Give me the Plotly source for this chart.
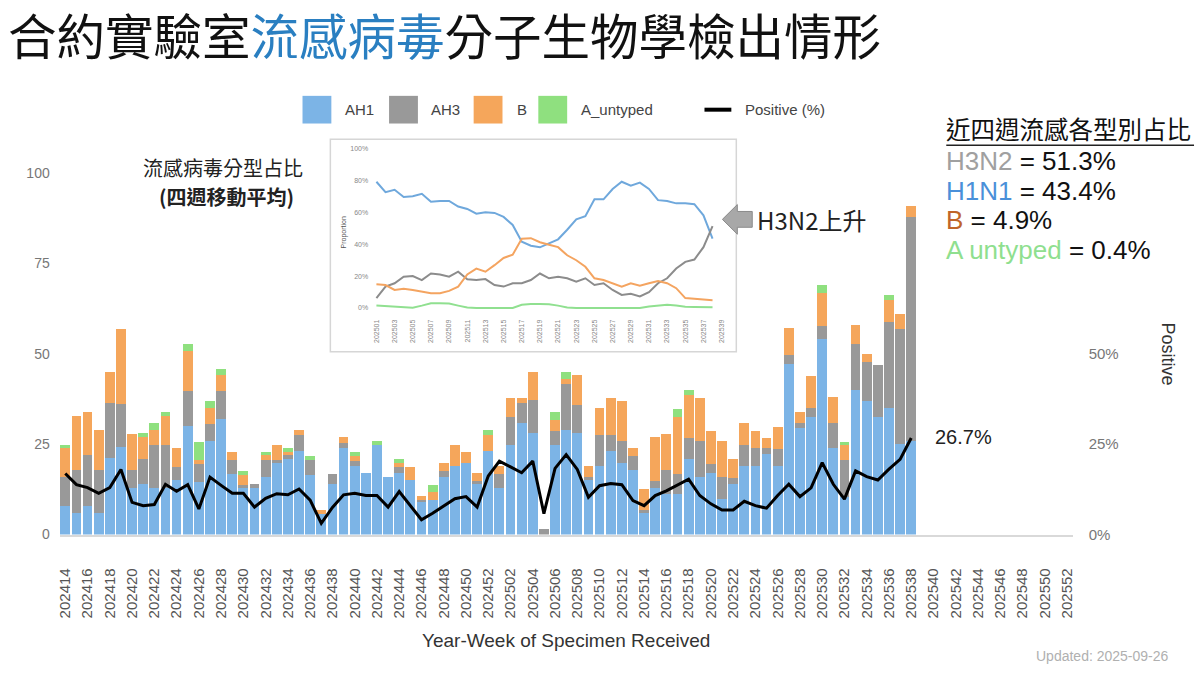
import plotly.graph_objects as go

# ---------------- data ----------------
weeks = [f"2024{w:02d}" for w in range(14, 53)] + [f"2025{w:02d}" for w in range(1, 53)]
data_weeks = weeks[:77]  # 202414 .. 202538

ah1 = [8.0, 5.9, 8.0, 5.9, 21.1, 24.2, 13.0, 13.9, 13.0, 13.0,
       15.0, 29.9, 14.6, 25.9, 32.0, 16.8, 13.0, 12.8, 15.9, 19.8,
       21.0, 23.0, 16.6, 5.7, 13.9, 24.0, 19.0, 16.9, 24.9, 15.8,
       16.9, 15.0, 8.9, 9.6, 15.8, 19.0, 19.9, 13.9, 23.0, 13.0,
       24.9, 30.8, 28.1, 0.0, 24.9, 29.0, 28.1, 15.0, 19.0, 23.0,
       19.9, 17.8, 5.9, 13.0, 11.2, 11.2, 20.8, 15.8, 16.9, 9.9,
       13.9, 19.0, 19.0, 22.2, 19.0, 47.2, 29.4, 32.4, 54.0, 24.0,
       10.5, 39.9, 36.9, 32.4, 34.9, 25.1, 25.8]
ah3 = [7.8, 11.9, 13.9, 11.9, 15.4, 11.8, 4.8, 6.9, 11.7, 11.7,
       3.8, 9.7, 4.8, 4.6, 7.6, 3.9, 0.7, 1.1, 4.8, 0.9,
       1.1, 4.6, 4.1, 0.0, 2.9, 1.3, 1.3, 0.0, 0.0, 0.0,
       1.8, 0.0, 0.7, 0.0, 1.8, 0.0, 0.0, 1.0, 0.0, 3.7,
       7.7, 5.7, 9.1, 1.5, 3.8, 12.7, 7.7, 1.0, 8.6, 4.6,
       5.9, 3.9, 0.8, 1.9, 6.6, 5.5, 5.9, 10.0, 2.7, 5.9,
       1.7, 5.7, 4.8, 1.8, 4.7, 2.5, 1.4, 2.5, 3.7, 6.8,
       10.2, 12.8, 10.8, 14.4, 23.9, 31.7, 61.9]
b = [8.2, 15.1, 11.9, 11.0, 8.4, 20.9, 10.0, 6.1, 4.3, 8.2,
     5.1, 11.2, 1.3, 4.4, 4.4, 2.1, 2.9, 0.0, 1.2, 4.1,
     0.8, 1.3, 0.0, 1.1, 0.0, 1.6, 1.4, 0.0, 0.0, 0.0,
     1.2, 3.7, 1.2, 2.3, 2.3, 5.9, 3.0, 2.0, 4.6, 2.3,
     5.2, 1.3, 7.7, 0.0, 3.0, 1.2, 8.2, 3.0, 7.3, 10.2,
     11.1, 2.1, 5.9, 12.0, 10.0, 15.9, 12.0, 12.0, 9.1, 10.0,
     5.2, 6.1, 4.9, 2.8, 6.0, 7.3, 3.0, 8.9, 9.1, 7.1,
     4.0, 5.2, 2.1, 0.0, 6.0, 4.3, 3.2]
a_untyped = [0.9, 0.0, 0.0, 0.0, 0.0, 0.0, 0.0, 1.1, 1.8, 0.9,
             0.0, 2.0, 5.0, 2.0, 1.8, 0.0, 1.1, 0.0, 0.9, 0.0,
             1.1, 0.0, 0.9, 0.0, 0.0, 0.0, 1.2, 0.0, 0.9, 0.0,
             0.9, 0.0, 0.0, 1.9, 0.0, 0.0, 0.0, 0.0, 1.4, 0.0,
             0.0, 0.0, 0.0, 0.0, 2.1, 2.0, 0.0, 0.0, 0.0, 0.0,
             0.0, 0.0, 0.0, 0.0, 0.0, 2.1, 1.2, 0.0, 0.0, 0.0,
             0.0, 0.0, 0.0, 0.0, 0.0, 0.0, 0.0, 0.0, 2.3, 0.0,
             0.9, 0.0, 0.0, 0.0, 1.3, 0.0, 0.0]
positive = [16.9, 13.8, 13.0, 11.4, 13.0, 18.0, 8.9, 8.0, 8.3, 13.9,
            12.0, 13.8, 7.1, 15.9, 13.6, 11.4, 11.4, 7.6, 10.0, 11.3,
            11.0, 12.6, 9.5, 3.1, 7.5, 11.0, 11.4, 10.8, 10.8, 7.6,
            11.9, 8.0, 4.1, 5.9, 8.0, 9.9, 10.5, 7.6, 16.2, 20.3,
            18.7, 17.1, 20.3, 5.8, 18.3, 22.1, 18.0, 10.3, 13.5, 14.1,
            13.8, 9.4, 8.0, 10.8, 12.1, 13.8, 15.3, 10.8, 8.5, 6.8,
            6.8, 9.2, 8.0, 7.3, 10.8, 13.9, 10.5, 12.9, 19.9, 13.9,
            9.8, 17.6, 16.0, 15.1, 18.1, 20.8, 26.7]

left_ticks = [0, 25, 50, 75, 100]
right_ticks = [0, 25, 50]
right_ticktext = ["0%", "25%", "50%"]

# inset: 4-week moving average proportions (%)
inset_weeks = [f"2025{w:02d}" for w in range(1, 40)]
inset_data_weeks = inset_weeks[:38]
prop_ah1 = [79, 72.5, 74, 69.5, 70, 71.5, 66.5, 67, 67, 63.5,
            62, 59, 60, 59.5, 57, 52, 41.5, 39, 38, 40.5,
            43, 49, 55.5, 57.5, 68, 68, 74.5, 79, 76.5, 78.5,
            74.5, 67.5, 67, 65.5, 65.5, 65, 58, 43.4]
prop_ah3 = [6.2, 13.4, 15.5, 19.6, 20, 17.5, 21.6, 21, 19.6, 22.7,
            18, 17.5, 18.1, 14.4, 13.4, 15.5, 15.5, 17.5, 21.6, 18.6,
            19.6, 18.6, 16.5, 18.6, 14.4, 15.5, 11.3, 8.2, 8.9, 7.2,
            9.9, 15.5, 18.6, 24.7, 28.9, 30.3, 38.1, 51.3]
prop_b = [14.8, 14.4, 11.3, 12, 11.3, 10.3, 9.3, 9.3, 10.7, 13.4,
          21, 24.7, 22.7, 26.8, 31.3, 33.4, 43.3, 43.7, 41.2, 39.6,
          38.1, 33, 29.9, 25.8, 18.6, 17.5, 15.5, 13.4, 15.5, 14,
          15.5, 16.9, 15.5, 12.4, 6.2, 5.8, 5.6, 4.9]
prop_au = [1.5, 1.2, 1, 0.3, 0.2, 1.5, 3, 3, 2.8, 1.5,
           0.3, 0, 0, 0, 0, 0, 2, 2.5, 2.5, 2.3,
           1.5, 0.3, 0, 0, 0, 0, 0, 0, 0, 0,
           1, 1.3, 2, 1.5, 0.8, 0.6, 0.5, 0.4]
inset_ticks = [0, 20, 40, 60, 80, 100]
inset_ticktext = ["0%", "20%", "40%", "60%", "80%", "100%"]

# recent four-week shares shown at right
share_labels = ["H3N2", "H1N1", "B", "A untyped"]
share_values = ["51.3%", "43.4%", "4.9%", "0.4%"]
share_colors = ["#a0a0a0", "#4a90d9", "#c0652a", "#8fdf8f"]

# ---------------- styling ----------------
W, H = 1200, 675
def X(px): return px / W
def Y(py): return 1 - py / H

C_AH1 = "#7cb4e6"
C_AH3 = "#999999"
C_B = "#f5a65b"
C_AU = "#8fe07f"
LAT = "Liberation Sans, Arial, sans-serif"
CJK = "Noto Sans CJK TC, Noto Sans, sans-serif"

fig = go.Figure()
for name, vals, col in [("AH1", ah1, C_AH1), ("AH3", ah3, C_AH3),
                        ("B", b, C_B), ("A_untyped", a_untyped, C_AU)]:
    fig.add_trace(go.Bar(x=data_weeks, y=vals, name=name, marker=dict(color=col, line=dict(width=0)),
                         xaxis="x", yaxis="y", showlegend=False))
fig.add_trace(go.Scatter(x=data_weeks, y=positive, name="Positive (%)", mode="lines",
                         line=dict(color="black", width=3), xaxis="x", yaxis="y2", showlegend=False))

# inset traces
for vals, col in [(prop_ah1, "#6fa8dc"), (prop_ah3, "#8c8c8c"), (prop_b, "#f4a460"), (prop_au, "#90e090")]:
    fig.add_trace(go.Scatter(x=inset_data_weeks, y=vals, mode="lines", line=dict(color=col, width=2),
                             xaxis="x3", yaxis="y3", showlegend=False))

YMAX = 106.8
fig.update_layout(
    width=W, height=H, margin=dict(l=0, r=0, t=0, b=0),
    paper_bgcolor="white", plot_bgcolor="rgba(0,0,0,0)",
    barmode="stack", bargap=0.12, hovermode=False, showlegend=False,
    xaxis=dict(domain=[X(56), X(1074)], anchor="y", type="category", categoryorder="array",
               categoryarray=weeks, range=[-0.5, 90.5], tickmode="array", tickvals=weeks[::2],
               tickangle=-90, tickfont=dict(family=LAT, size=15, color="#555"),
               showline=True, linecolor="#d9d9d9", linewidth=1.5, showgrid=False, zeroline=False,
               ticks="", ticklabelstandoff=26),
    yaxis=dict(domain=[Y(541), Y(150)], anchor="x", range=[0, YMAX], tickmode="array",
               tickvals=left_ticks, showgrid=False, zeroline=False, showline=False, ticks="",
               tickfont=dict(family=LAT, size=14, color="#777"), ticklabelstandoff=9),
    yaxis2=dict(overlaying="y", side="right", anchor="x", range=[0, YMAX], tickmode="array",
                tickvals=right_ticks, ticktext=right_ticktext, showgrid=False, zeroline=False,
                showline=False, ticks="", tickfont=dict(family=LAT, size=15, color="#777"),
                ticklabelstandoff=15),
    xaxis3=dict(domain=[X(370), X(730)], anchor="y3", type="category", categoryorder="array",
                categoryarray=inset_weeks, range=[-0.47, 38.96], tickmode="array",
                tickvals=inset_weeks[::2], tickangle=-90,
                tickfont=dict(family=LAT, size=7, color="#888"), showgrid=False, showline=False,
                zeroline=False, ticks="", ticklabelstandoff=5),
    yaxis3=dict(domain=[Y(316), Y(145)], anchor="x3", range=[-2.66, 103.1], tickmode="array",
                tickvals=inset_ticks, ticktext=inset_ticktext, showgrid=False, zeroline=False,
                showline=False, ticks="", tickfont=dict(family=LAT, size=7, color="#888"),
                ticklabelstandoff=3),
)

shapes = []
# inset frame
shapes.append(dict(type="rect", xref="paper", yref="paper", x0=X(328), x1=X(736), y0=Y(356), y1=Y(141),
                   line=dict(color="#d6d6d6", width=1.5), fillcolor="white", layer="below"))
# arrow pointing left
pts = [(722, 222), (737, 207), (737, 214), (752, 214), (752, 230), (737, 230), (737, 237)]
path = "M " + " L ".join(f"{X(px):.5f},{Y(py):.5f}" for px, py in pts) + " Z"
shapes.append(dict(type="path", xref="paper", yref="paper", path=path,
                   fillcolor="#a8a8a8", line=dict(color="#8a8a8a", width=1)))
# underline
shapes.append(dict(type="line", xref="paper", yref="paper", x0=X(947), x1=X(1196), y0=Y(147), y1=Y(147),
                   line=dict(color="#222", width=1.5)))
# legend swatches
for x0, col in [(300, C_AH1), (387, C_AH3), (472, C_B), (537, C_AU)]:
    shapes.append(dict(type="rect", xref="paper", yref="paper", x0=X(x0), x1=X(x0 + 29),
                       y0=Y(125), y1=Y(97), fillcolor=col, line=dict(width=0)))
shapes.append(dict(type="line", xref="paper", yref="paper", x0=X(704), x1=X(731), y0=Y(111), y1=Y(111),
                   line=dict(color="black", width=4)))
fig.update_layout(shapes=shapes)

ann = []
def A(text, x, y, size, color="#222", family=CJK, xanchor="left", angle=0, align="left", yanchor="middle"):
    ann.append(dict(text=text, x=X(x), y=Y(y), xref="paper", yref="paper", showarrow=False,
                    xanchor=xanchor, yanchor=yanchor, textangle=angle, align=align,
                    font=dict(family=family, size=size, color=color)))

A('合約實驗室<span style="color:#2a7fc1">流感病毒</span>分子生物學檢出情形', 2, 34, 48.5, color="#111")
A("流感病毒分型占比", 220, 169.5, 20, xanchor="center")
A("<b>(四週移動平均)</b>", 224, 198.5, 20, xanchor="center")
A("H3N2上升", 755, 222, 24)
A("近四週流感各型別占比", 945, 130, 24.5, color="#111")
for i, (lab, val, col) in enumerate(zip(share_labels, share_values, share_colors)):
    A(f'<span style="color:{col}">{lab}</span> = {val}', 945, 163 + 30 * i, 26, color="#111", family=LAT)
A("26.7%", 934, 442, 20, family=LAT)
A("Year-Week of Specimen Received", 565, 648, 19, color="#333", family=LAT, xanchor="center")
A("Positive", 1170, 358, 18, color="#333", family=LAT, xanchor="center", angle=90)
A("Proportion", 342, 235, 7, color="#555", family=LAT, xanchor="center", angle=-90)
A("Updated: 2025-09-26", 1035, 664, 14, color="#b0b0b0", family=LAT)
# legend labels
A("AH1", 341, 111, 15, color="#444", family=LAT)
A("AH3", 427, 111, 15, color="#444", family=LAT)
A("B", 514, 111, 15, color="#444", family=LAT)
A("A_untyped", 578, 111, 15, color="#444", family=LAT)
A("Positive (%)", 743, 111, 15, color="#444", family=LAT)
fig.update_layout(annotations=ann)

fig.write_html("out.html")
